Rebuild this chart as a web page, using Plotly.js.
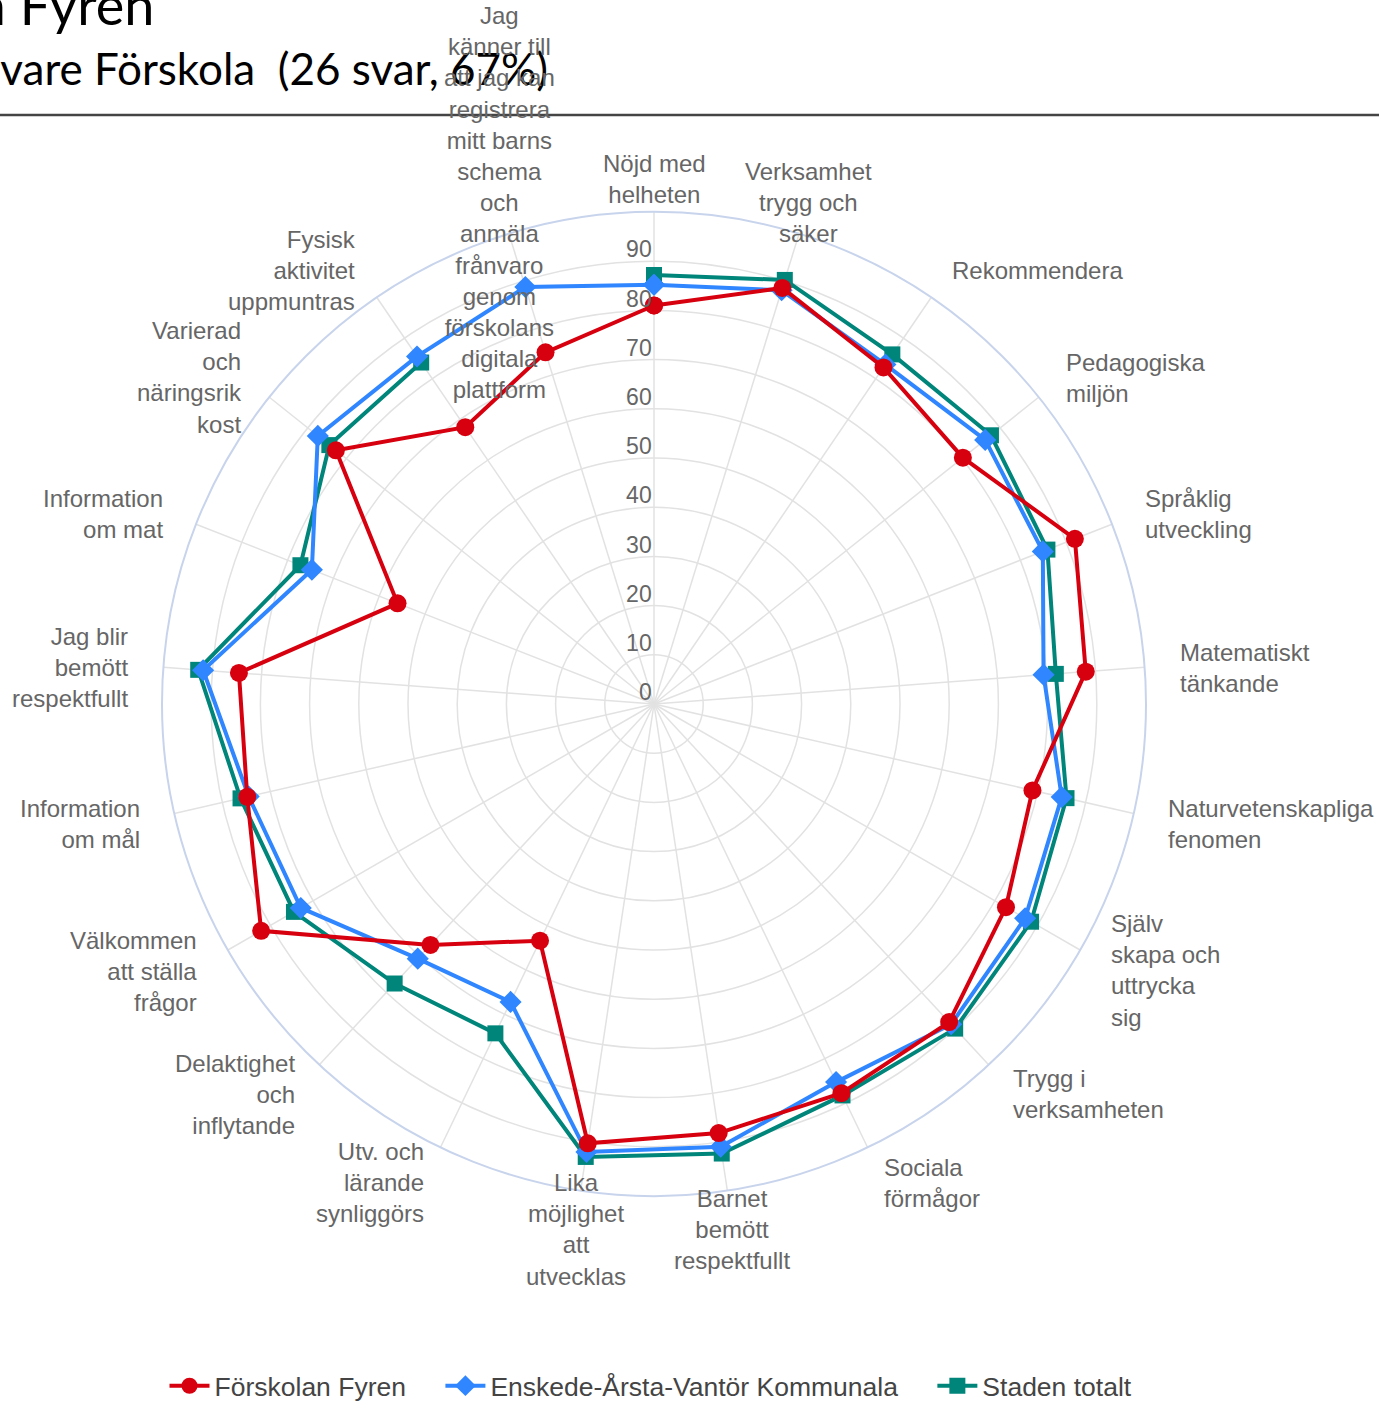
<!DOCTYPE html>
<html>
<head>
<meta charset="utf-8">
<script src="https://cdn.plot.ly/plotly-3.0.1.min.js"></script>
<style>html,body{margin:0;padding:0;background:#fff;}#chart{width:1379px;height:1403px;}</style>
</head>
<body>
<div id="chart"></div>
<script>
// Categories (clockwise from top)
const categories = [
  "Nöjd med<br>helheten",
  "Verksamhet<br>trygg och<br>säker",
  "Rekommendera",
  "Pedagogiska<br>miljön",
  "Språklig<br>utveckling",
  "Matematiskt<br>tänkande",
  "Naturvetenskapliga<br>fenomen",
  "Själv<br>skapa och<br>uttrycka<br>sig",
  "Trygg i<br>verksamheten",
  "Sociala<br>förmågor",
  "Barnet<br>bemött<br>respektfullt",
  "Lika<br>möjlighet<br>att<br>utvecklas",
  "Utv. och<br>lärande<br>synliggörs",
  "Delaktighet<br>och<br>inflytande",
  "Välkommen<br>att ställa<br>frågor",
  "Information<br>om mål",
  "Jag blir<br>bemött<br>respektfullt",
  "Information<br>om mat",
  "Varierad<br>och<br>näringsrik<br>kost",
  "Fysisk<br>aktivitet<br>uppmuntras",
  "Jag<br>känner till<br>att jag kan<br>registrera<br>mitt barns<br>schema<br>och<br>anmäla<br>frånvaro<br>genom<br>förskolans<br>digitala<br>plattform"
];

const seriesNames = ["Förskolan Fyren", "Enskede-Årsta-Vantör Kommunala", "Staden totalt"];

const fyren     = [81.0, 88.5, 82.8, 80.3, 91.9, 88.0, 78.9, 82.6, 88.2, 87.8, 88.2, 90.3, 53.4, 66.8, 92.2, 84.8, 84.6, 56.0, 82.7, 68.1, 74.8];
const kommunala = [85.2, 88.0, 83.5, 86.1, 84.9, 79.4, 85.0, 87.1, 88.8, 85.3, 91.0, 92.1, 67.2, 70.6, 82.9, 84.5, 91.9, 74.7, 87.4, 85.5, 88.7];
const staden    = [87.2, 90.2, 86.0, 87.6, 85.9, 81.9, 86.0, 88.5, 90.0, 88.3, 92.4, 93.1, 74.3, 77.5, 84.5, 86.2, 92.9, 77.2, 84.4, 84.0, null];

const radialTicks = [0, 10, 20, 30, 40, 50, 60, 70, 80, 90];

const titleLine1 = "Förskolan Fyren";
const titleLine2 = "Vårdnadshavare Förskola  (26 svar, 67%)";

function closed(arr) { return arr.concat([arr[0]]); }

const thetaClosed = closed(categories);
const N = categories.length;

const W = 1379, H = 1403;
// polar area (pixels)
const PX0 = 162, PX1 = 1146, PY0 = 212, PY1 = 1196;
const CX = (PX0 + PX1) / 2, CY = (PY0 + PY1) / 2, RAD = (PX1 - PX0) / 2;
const LABEL_RX = RAD + 33, LABEL_RY = RAD + 36, LABEL_DY = 3;

const labelFont = {family: "Liberation Sans, Arial, sans-serif", size: 24, color: "#666666"};

// category labels around the outer ring
const labelAnnotations = categories.map((c, i) => {
  const a = 360 * i / N;
  const rad = a * Math.PI / 180;
  const px = CX + LABEL_RX * Math.sin(rad);
  const py = CY + LABEL_DY - LABEL_RY * Math.cos(rad);
  let xa = "center";
  if (!(a < 20 || a > 340 || (a > 160 && a < 200))) xa = a < 180 ? "left" : "right";
  return {
    text: c, xref: "paper", yref: "paper", x: px / W, y: 1 - py / H,
    xanchor: xa, yanchor: "middle", align: xa, showarrow: false, font: labelFont
  };
});

const traces = [
  {
    type: "scatterpolar", name: seriesNames[2],
    r: closed(staden), theta: thetaClosed, mode: "lines+markers",
    line: {color: "#00857a", width: 4},
    marker: {symbol: "square", size: 16, color: "#00857a"},
    connectgaps: false, hoverinfo: "skip"
  },
  {
    type: "scatterpolar", name: seriesNames[1] + "\u00a0\u00a0\u00a0\u00a0",
    r: closed(kommunala), theta: thetaClosed, mode: "lines+markers",
    line: {color: "#2f86ff", width: 4},
    marker: {symbol: "diamond", size: 17, color: "#2f86ff"},
    hoverinfo: "skip"
  },
  {
    type: "scatterpolar", name: seriesNames[0] + "\u00a0\u00a0\u00a0\u00a0",
    r: closed(fyren), theta: thetaClosed, mode: "lines+markers",
    line: {color: "#d7000f", width: 4},
    marker: {symbol: "circle", size: 18, color: "#d7000f"},
    hoverinfo: "skip"
  }
];

const layout = {
  width: W, height: H,
  margin: {l: 0, r: 0, t: 0, b: 0, autoexpand: false},
  paper_bgcolor: "#ffffff",
  font: {family: "Liberation Sans, Arial, sans-serif", color: "#666666", size: 24},
  showlegend: true,
  legend: {
    orientation: "h", x: 651 / W, xanchor: "center", y: 1 - 1386 / H, yanchor: "middle",
    traceorder: "reversed", itemwidth: 40,
    font: {family: "Liberation Sans, Arial, sans-serif", size: 26.5, color: "#444444"}
  },
  polar: {
    domain: {x: [PX0 / W, PX1 / W], y: [1 - PY1 / H, 1 - PY0 / H]},
    bgcolor: "#ffffff",
    radialaxis: {
      range: [0, 100], angle: 90, side: "counterclockwise",
      tickmode: "array", tickvals: radialTicks,
      ticktext: radialTicks.map(v => "<span style='font-size:23px'>" + v + "</span><br>&nbsp;"),
      showline: false, ticks: "", tickangle: 90,
      gridcolor: "#e2e2e2", gridwidth: 1.5,
      tickfont: {family: "Liberation Sans, Arial, sans-serif", size: 12, color: "#666666"}
    },
    angularaxis: {
      type: "category", categoryorder: "array", categoryarray: categories,
      rotation: 90, direction: "clockwise",
      showticklabels: false,
      ticks: "", showline: true, linecolor: "#c8d4ec", linewidth: 2,
      gridcolor: "#e2e2e2", gridwidth: 1.5
    }
  },
  shapes: [
    {type: "line", xref: "paper", yref: "paper", x0: 0, x1: 1, y0: 1 - 115 / H, y1: 1 - 115 / H,
     line: {color: "#444444", width: 2.5}, layer: "above"}
  ],
  annotations: [
    {text: titleLine1, xref: "paper", yref: "paper", x: 156 / W, y: 1 - 4 / H,
     xanchor: "right", yanchor: "middle", showarrow: false,
     font: {family: "Lato, Noto Sans, sans-serif", size: 54, color: "#000000"}},
    {text: titleLine2, xref: "paper", yref: "paper", x: 550 / W, y: 1 - 68 / H,
     xanchor: "right", yanchor: "middle", showarrow: false,
     font: {family: "Lato, Noto Sans, sans-serif", size: 44, color: "#000000"}}
  ].concat(labelAnnotations)
};

Plotly.newPlot("chart", traces, layout, {displayModeBar: false, staticPlot: true});
</script>
</body>
</html>
